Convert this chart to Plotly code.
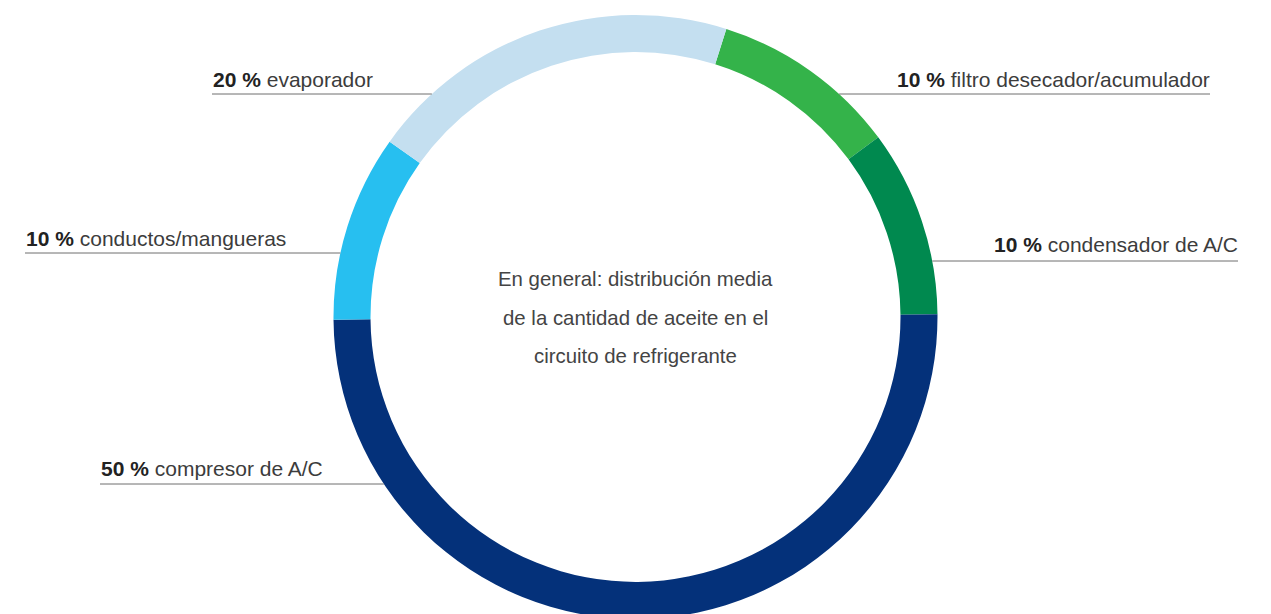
import math
import plotly.graph_objects as go

# ---- data ----
categories = ["filtro desecador/acumulador", "condensador de A/C", "compresor de A/C",
              "conductos/mangueras", "evaporador"]
values = [10, 10, 50, 10, 20]
colors = ["#34b34a", "#00894f", "#04317a", "#27bff0", "#c4dff0"]
center_lines = ["En general: distribución media",
                "de la cantidad de aceite en el",
                "circuito de refrigerante"]

# ---- layout geometry (pixels) ----
W, H = 1271, 620
MT, MB = 15, 1
cx = W / 2
plot_h = H - MT - MB
cy = MT + plot_h / 2
R = plot_h / 2

# label placement: (side, text edge x, text centre y, leader line y)
label_pos = {
    "filtro desecador/acumulador": ("right", 1210, 79, 94),
    "condensador de A/C": ("right", 1238, 245, 261),
    "compresor de A/C": ("left", 100, 468, 484),
    "conductos/mangueras": ("left", 25, 238, 253),
    "evaporador": ("left", 212, 79, 94),
}
center_y = [279, 318, 356]
TEXT_PAD = 2  # plotly annotation inner padding


def px(x):
    return x / W


def py(y):
    return (H - MB - y) / plot_h


fig = go.Figure(go.Pie(
    labels=categories, values=values, hole=265 / 302,
    sort=False, direction="clockwise", rotation=17.5,
    marker=dict(colors=colors, line=dict(width=0)),
    textinfo="none", hoverinfo="label+percent", showlegend=False,
))

annotations = []
shapes = []
for cat, v in zip(categories, values):
    side, ex, ty, ly = label_pos[cat]
    dx = math.sqrt(max(R ** 2 - (ly - cy) ** 2, 0))
    if side == "left":
        x0, x1 = ex, cx - dx
        xanchor = "left"
        tx = ex - 1
    else:
        x0, x1 = cx + dx, ex
        xanchor = "right"
        tx = ex + TEXT_PAD
    shapes.append(dict(type="line", xref="paper", yref="paper",
                       x0=px(x0), x1=px(x1), y0=py(ly), y1=py(ly),
                       line=dict(color="#6e6e6e", width=1)))
    annotations.append(dict(
        xref="paper", yref="paper", x=px(tx), y=py(ty),
        xanchor=xanchor, yanchor="middle", showarrow=False,
        text=f"<b><span style='color:#222'>{v} %</span></b> {cat}",
        font=dict(family="Liberation Sans, Arial, sans-serif", size=21, color="#3c3c3c"),
    ))

for line, y in zip(center_lines, center_y):
    annotations.append(dict(
        xref="paper", yref="paper", x=px(cx), y=py(y),
        xanchor="center", yanchor="middle", showarrow=False, text=line,
        font=dict(family="Liberation Sans, Arial, sans-serif", size=20.4, color="#444444"),
    ))

fig.update_layout(
    width=W, height=H,
    margin=dict(l=0, r=0, t=MT, b=MB, pad=0),
    paper_bgcolor="white", plot_bgcolor="white",
    annotations=annotations, shapes=shapes,
)

fig.write_html("out.html",
               post_script="document.documentElement.style.overflow='hidden';document.body.style.overflow='hidden';document.body.style.margin='0';")
